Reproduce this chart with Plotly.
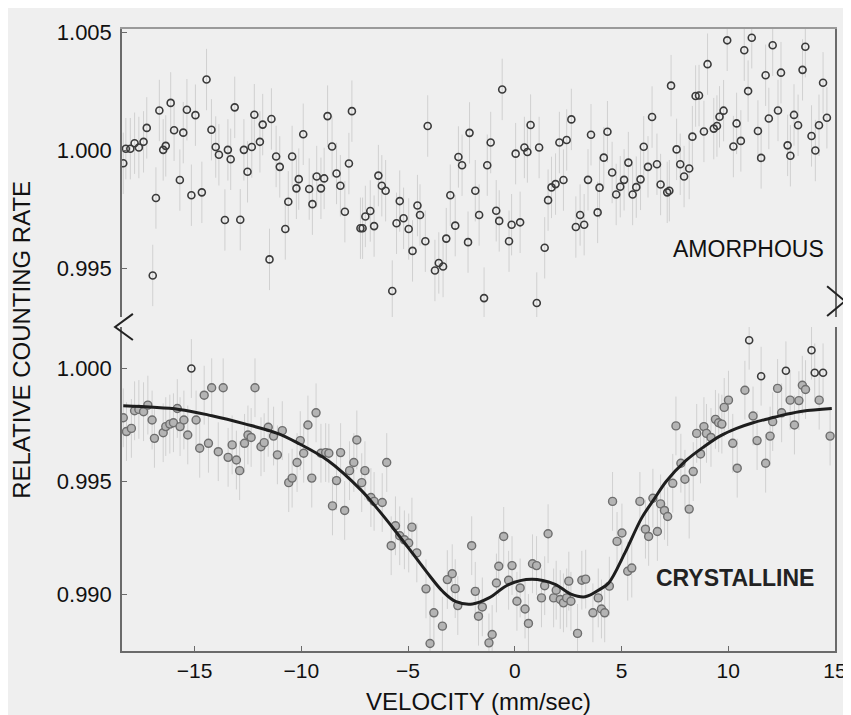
import plotly.graph_objects as go

# ---------------- data ----------------
amor_v = [-18.34, -18.22, -18.01, -17.81, -17.61, -17.39, -17.24, -16.96, -16.81, -16.65,
          -16.47, -16.35, -16.12, -15.96, -15.69, -15.53, -15.36, -15.15, -14.96, -14.66,
          -14.44, -14.21, -14.01, -13.86, -13.58, -13.44, -13.31, -13.12, -12.86, -12.69,
          -12.52, -12.32, -12.20, -11.94, -11.81, -11.49, -11.40, -11.18, -11.01, -10.75,
          -10.61, -10.43, -10.23, -10.12, -9.91, -9.63, -9.48, -9.28, -9.08, -8.93,
          -8.77, -8.56, -8.35, -8.17, -7.96, -7.77, -7.63, -7.23, -7.13, -7.00,
          -6.77, -6.59, -6.39, -6.23, -6.05, -5.74, -5.54, -5.39, -5.21, -4.97,
          -4.79, -4.56, -4.44, -4.19, -4.08, -3.74, -3.56, -3.36, -3.21, -3.02,
          -2.79, -2.64, -2.47, -2.19, -2.12, -1.85, -1.67, -1.44, -1.29, -1.13,
          -0.87, -0.73, -0.59, -0.27, -0.15, 0.04, 0.25, 0.45, 0.59, 0.74,
          1.03, 1.14, 1.40, 1.56, 1.72, 1.91, 2.09, 2.28, 2.43, 2.65,
          2.86, 3.06, 3.25, 3.43, 3.57, 3.88, 3.97, 4.17, 4.34, 4.56,
          4.75, 4.94, 5.12, 5.32, 5.52, 5.69, 5.89, 6.04, 6.24, 6.43,
          6.66, 6.83, 7.14, 7.24, 7.32, 7.58, 7.75, 7.93, 8.17, 8.32,
          8.47, 8.63, 8.86, 9.03, 9.32, 9.47, 9.59, 9.78, 9.95, 10.24,
          10.39, 10.59, 10.75, 10.93, 11.10, 11.39, 11.54, 11.75, 11.90, 12.08,
          12.33, 12.47, 12.78, 12.91, 13.08, 13.27, 13.48, 13.61, 13.90, 14.08,
          14.25, 14.44, 14.62]
amor_r = [0.99944, 1.00006, 1.00006, 1.00029, 1.00011, 1.00035, 1.00094, 0.99469, 0.99797, 1.00168,
          1.00001, 1.00018, 1.00200, 1.00084, 0.99873, 1.00074, 1.00171, 0.99809, 1.00148, 0.99821,
          1.00299, 1.00086, 1.00013, 0.99980, 0.99704, 1.00001, 0.99961, 1.00181, 0.99705, 1.00001,
          0.99908, 1.00013, 1.00150, 1.00035, 1.00108, 0.99537, 1.00132, 0.99973, 0.99929, 0.99666,
          0.99781, 0.99973, 0.99838, 0.99877, 1.00067, 0.99835, 0.99771, 0.99888, 0.99838, 0.99880,
          1.00144, 1.00015, 0.99901, 0.99849, 0.99739, 0.99943, 1.00165, 0.99669, 0.99669, 0.99719,
          0.99742, 0.99678, 0.99892, 0.99849, 0.99828, 0.99403, 0.99690, 0.99784, 0.99711, 0.99666,
          0.99573, 0.99765, 0.99725, 0.99614, 1.00102, 0.99490, 0.99522, 0.99507, 0.99625, 0.99809,
          0.99680, 0.99971, 0.99936, 0.99610, 1.00073, 0.99828, 0.99725, 0.99373, 0.99936, 1.00032,
          0.99743, 0.99700, 1.00257, 0.99614, 0.99684, 0.99985, 0.99694, 1.00011, 0.99992, 1.00106,
          0.99352, 1.00011, 0.99586, 0.99788, 0.99842, 0.99856, 1.00032, 0.99873, 1.00043, 1.00130,
          0.99674, 0.99725, 0.99684, 0.99874, 1.00065, 0.99736, 0.99841, 0.99968, 1.00078, 0.99905,
          0.99812, 0.99845, 0.99874, 0.99947, 0.99812, 0.99843, 0.99876, 1.00014, 0.99929, 1.00140,
          0.99940, 0.99854, 0.99821, 0.99828, 1.00273, 1.00003, 0.99940, 0.99888, 0.99922, 1.00057,
          1.00229, 1.00231, 1.00079, 1.00364, 1.00091, 1.00102, 1.00141, 1.00167, 1.00465, 1.00015,
          1.00113, 1.00039, 1.00423, 1.00250, 1.00476, 1.00081, 0.99967, 1.00317, 1.00134, 1.00444,
          1.00168, 1.00328, 1.00020, 0.99976, 1.00149, 1.00105, 1.00340, 1.00438, 1.00060, 0.99998,
          1.00105, 1.00285, 1.00137]

crys_v = [-18.34, -18.19, -17.96, -17.81, -17.61, -17.39, -17.19, -16.99, -16.88, -16.47,
          -16.35, -16.16, -15.99, -15.81, -15.68, -15.50, -15.32, -14.93, -14.76, -14.55,
          -14.35, -14.20, -13.89, -13.66, -13.43, -13.24, -13.04, -12.89, -12.66, -12.50,
          -12.35, -12.17, -11.89, -11.74, -11.55, -11.30, -11.12, -10.89, -10.59, -10.43,
          -10.20, -10.05, -9.89, -9.69, -9.51, -9.31, -9.08, -8.86, -8.71, -8.54,
          -8.35, -8.16, -7.97, -7.74, -7.54, -7.40, -7.17, -7.02, -6.74, -6.59,
          -6.21, -6.00, -5.79, -5.59, -5.39, -5.17, -4.97, -4.82, -4.59, -4.16,
          -3.97, -3.79, -3.39, -3.16, -2.93, -2.79, -2.67, -2.02, -1.85, -1.70,
          -1.52, -1.21, -1.06, -0.86, -0.75, -0.52, -0.29, -0.13, 0.10, 0.25,
          0.48, 0.64, 0.83, 1.02, 1.25, 1.40, 1.56, 1.82, 1.94, 2.13,
          2.28, 2.43, 2.53, 2.63, 2.94, 3.14, 3.32, 3.66, 3.91, 4.06,
          4.21, 4.43, 4.58, 4.79, 5.02, 5.29, 5.48, 5.86, 6.12, 6.27,
          6.47, 6.68, 6.83, 7.01, 7.16, 7.40, 7.55, 7.78, 7.97, 8.17,
          8.36, 8.52, 8.70, 8.86, 8.98, 9.19, 9.40, 9.55, 9.70, 9.81,
          10.01, 10.21, 10.42, 10.78, 11.16, 11.35, 11.75, 11.96, 12.08, 12.31,
          12.50, 12.90, 13.10, 13.31, 13.47, 13.62, 14.26, 14.77]
crys_r = [0.99782, 0.99721, 0.99735, 0.99813, 0.99819, 0.99809, 0.99838, 0.99772, 0.99691, 0.99716,
          0.99743, 0.99754, 0.99760, 0.99823, 0.99743, 0.99772, 0.99706, 0.99772, 0.99647, 0.99882,
          0.99669, 0.99915, 0.99632, 0.99915, 0.99607, 0.99662, 0.99595, 0.99548, 0.99669, 0.99706,
          0.99695, 0.99915, 0.99654, 0.99672, 0.99740, 0.99701, 0.99618, 0.99725, 0.99495, 0.99515,
          0.99584, 0.99681, 0.99625, 0.99750, 0.99515, 0.99804, 0.99625, 0.99628, 0.99625, 0.99392,
          0.99504, 0.99628, 0.99372, 0.99548, 0.99584, 0.99684, 0.99495, 0.99548, 0.99429, 0.99412,
          0.99407, 0.99584, 0.99216, 0.99304, 0.99260, 0.99242, 0.99228, 0.99298, 0.99184, 0.99025,
          0.98783, 0.98919, 0.98860, 0.99066, 0.99092, 0.99026, 0.98951, 0.99216, 0.99014, 0.98904,
          0.98945, 0.98786, 0.98823, 0.99051, 0.99125, 0.99257, 0.99063, 0.99128, 0.98970, 0.99029,
          0.98936, 0.98872, 0.99136, 0.99128, 0.98985, 0.99039, 0.99269, 0.98985, 0.99019, 0.98978,
          0.98963, 0.98985, 0.99059, 0.98970, 0.98828, 0.99063, 0.99068, 0.98919, 0.98985, 0.98936,
          0.98919, 0.99037, 0.99412, 0.99235, 0.99272, 0.99103, 0.99117, 0.99412, 0.99289, 0.99257,
          0.99426, 0.99279, 0.99401, 0.99372, 0.99345, 0.99492, 0.99746, 0.99581, 0.99510, 0.99378,
          0.99544, 0.99713, 0.99622, 0.99743, 0.99713, 0.99695, 0.99775, 0.99760, 0.99754, 0.99828,
          0.99860, 0.99669, 0.99559, 0.99904, 0.99790, 0.99681, 0.99581, 0.99701, 0.99765, 0.99912,
          0.99804, 0.99860, 0.99750, 0.99858, 0.99926, 0.99907, 0.99860, 0.99701]

crys_open_v = [-15.15, 10.98, 11.54, 12.70, 13.90, 14.05, 14.44]
crys_open_r = [1.00000, 1.00125, 0.99966, 0.99990, 1.00081, 0.99981, 0.99981]

fit_v = [-18.34, -15.73, -14.19, -12.65, -11.12, -10.20, -8.74, -7.20, -6.44, -5.67,
         -4.90, -4.13, -3.36, -2.75, -1.98, -1.21, -0.29, 0.79, 1.86, 2.63,
         3.30, 4.02, 4.40, 5.16, 5.94, 6.55, 7.09, 8.01, 8.86, 9.63,
         10.39, 11.16, 11.93, 12.70, 13.47, 14.85]
fit_r = [0.99835, 0.99819, 0.99791, 0.99755, 0.99713, 0.99672, 0.99592, 0.99462, 0.99380, 0.99290,
         0.99196, 0.99100, 0.99012, 0.98968, 0.98958, 0.98985, 0.99044, 0.99067, 0.99046, 0.99002,
         0.98990, 0.99025, 0.99051, 0.99184, 0.99338, 0.99425, 0.99500, 0.99592, 0.99654, 0.99702,
         0.99735, 0.99760, 0.99779, 0.99797, 0.99811, 0.99823]

x_ticks = [-15, -10, -5, 0, 5, 10, 15]
top_ticks = [0.995, 1.000, 1.005]
bot_ticks = [0.990, 0.995, 1.000]

# ---------------- figure ----------------
BG = "#efefef"
FONT = "Liberation Sans, Arial, Helvetica, sans-serif"
AXC = "#6a6a6a"
ERR = dict(type="constant", value=0.0013, color="rgba(140,140,140,0.30)", thickness=1, width=0)

fig = go.Figure()

fig.add_trace(go.Scatter(
    x=amor_v, y=amor_r, xaxis="x2", yaxis="y2", mode="markers",
    marker=dict(symbol="circle-open", size=7, color="#3a3a3a", line=dict(width=1.6)),
    error_y=ERR, showlegend=False))

fig.add_trace(go.Scatter(
    x=crys_v, y=crys_r, xaxis="x", yaxis="y", mode="markers",
    marker=dict(symbol="circle", size=8, color="#b4b4b4", line=dict(width=1.4, color="#6e6e6e")),
    error_y=ERR, showlegend=False))

fig.add_trace(go.Scatter(
    x=crys_open_v, y=crys_open_r, xaxis="x", yaxis="y", mode="markers",
    marker=dict(symbol="circle-open", size=7, color="#3a3a3a", line=dict(width=1.6)),
    error_y=ERR, showlegend=False))

fig.add_trace(go.Scatter(
    x=fit_v, y=fit_r, xaxis="x", yaxis="y", mode="lines",
    line=dict(color="#1e1e1e", width=3, shape="spline", smoothing=1.0),
    showlegend=False))

tickfont_x = dict(family=FONT, size=21, color="#111")
tickfont_y = dict(family=FONT, size=22, color="#111")

fig.update_layout(
    width=851, height=715,
    margin=dict(l=114, r=16, t=21, b=70),
    paper_bgcolor=BG, plot_bgcolor=BG,
    font=dict(family=FONT, color="#111"),
    xaxis=dict(domain=[0, 1], range=[-18.4, 15.0], anchor="y",
               tickvals=x_ticks, ticks="inside", ticklen=5, tickcolor=AXC,
               showline=True, linecolor=AXC, linewidth=1.5, mirror=False,
               showgrid=False, zeroline=False, tickfont=tickfont_x,
               title=dict(text="VELOCITY (mm/sec)", font=dict(family=FONT, size=24, color="#111"),
                          standoff=12)),
    xaxis2=dict(domain=[0, 1], matches="x", anchor="y2", side="top",
                showticklabels=False, ticks="", showline=True, linecolor="#9a9a9a",
                linewidth=1.5, showgrid=False, zeroline=False),
    yaxis=dict(domain=[0, 0.521], range=[0.98750, 1.00184], anchor="x",
               tickvals=bot_ticks, tickformat=".3f", ticks="inside", ticklen=5, tickcolor=AXC,
               showline=True, linecolor=AXC, linewidth=1.5, mirror=True, ticklabelstandoff=4,
               showgrid=False, zeroline=False, tickfont=tickfont_y),
    yaxis2=dict(domain=[0.537, 1], range=[0.99293, 1.00513], anchor="x2",
                tickvals=top_ticks, tickformat=".3f", ticks="inside", ticklen=5, tickcolor=AXC,
                showline=True, linecolor=AXC, linewidth=1.5, mirror=True, ticklabelstandoff=4,
                showgrid=False, zeroline=False, tickfont=tickfont_y),
)

fig.add_annotation(text="RELATIVE COUNTING RATE", xref="paper", yref="paper",
                   x=-0.142, y=0.5, xanchor="center", yanchor="middle",
                   textangle=-90, showarrow=False,
                   font=dict(family=FONT, size=24, color="#111"))
fig.add_annotation(text="AMORPHOUS", xref="x2", yref="y2", x=10.93, y=0.99580,
                   showarrow=False, font=dict(family=FONT, size=23, color="#111"))
fig.add_annotation(text="<b>CRYSTALLINE</b>", xref="x", yref="y", x=10.33, y=0.99072,
                   showarrow=False, font=dict(family=FONT, size=23, color="#222"))

# axis-break marks
fig.add_shape(type="path", xref="paper", yref="paper",
              path="M 0.0153,0.542 L -0.0097,0.521 L 0.0153,0.500",
              line=dict(color="#222", width=2))
fig.add_shape(type="path", xref="paper", yref="paper",
              path="M 0.9889,0.5865 L 1.0139,0.5625 L 0.9889,0.5385",
              line=dict(color="#222", width=2))

fig.write_html("out.html")
